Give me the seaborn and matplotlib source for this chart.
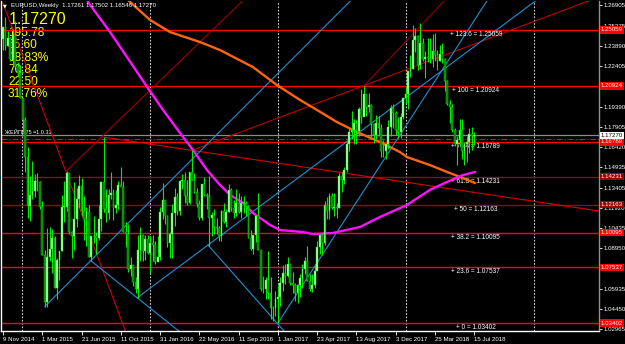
import numpy as np
import pandas as pd
import matplotlib
matplotlib.use("Agg")
import matplotlib.pyplot as plt
import seaborn as sns
from matplotlib.transforms import blended_transform_factory

sns.set_theme(style="dark")
plt.rcParams["font.family"] = ["Liberation Sans", "DejaVu Sans"]

# ---------------- data ----------------
first_week = "2014-11-09"
first_open = 1.2440
highs = [1.2530, 1.2600, 1.2500, 1.2456, 1.2510, 1.2570, 1.2270, 1.2250, 1.2000, 1.1860,
         1.1640, 1.1424, 1.1535, 1.1440, 1.1450, 1.1390, 1.1240, 1.0880, 1.1043, 1.1051,
         1.1036, 1.0980, 1.0820, 1.0870, 1.1290, 1.1390, 1.1467, 1.1450, 1.1020, 1.1385,
         1.1340, 1.1435, 1.1410, 1.1280, 1.1200, 1.1210, 1.0985, 1.1130, 1.1010, 1.1215,
         1.1390, 1.1714, 1.1330, 1.1330, 1.1460, 1.1330, 1.1320, 1.1390, 1.1495, 1.1390,
         1.1090, 1.1070, 1.0830, 1.0770, 1.0680, 1.0990, 1.1050, 1.1000, 1.0990, 1.0990,
         1.0985, 1.0990, 1.0950, 1.0985, 1.1200, 1.1376, 1.1250, 1.1140, 1.1010, 1.1220,
         1.1340, 1.1300, 1.1400, 1.1440, 1.1460, 1.1400, 1.1460, 1.1616, 1.1450, 1.1340,
         1.1250, 1.1370, 1.1420, 1.1300, 1.1425, 1.1160, 1.1180, 1.1120, 1.1060, 1.1175,
         1.1230, 1.1180, 1.1365, 1.1340, 1.1250, 1.1330, 1.1300, 1.1280, 1.1280, 1.1240,
         1.1210, 1.1030, 1.0990, 1.1140, 1.1300, 1.0800, 1.0690, 1.0680, 1.0870, 1.0680,
         1.0470, 1.0580, 1.0620, 1.0680, 1.0770, 1.0780, 1.0830, 1.0780, 1.0720, 1.0640,
         1.0630, 1.0700, 1.0780, 1.0830, 1.0910, 1.0700, 1.0700, 1.0780, 1.0950, 1.1000,
         1.1000, 1.1240, 1.1270, 1.1300, 1.1300, 1.1300, 1.1230, 1.1450, 1.1460, 1.1490,
         1.1680, 1.1780, 1.1910, 1.1850, 1.1840, 1.1940, 1.2070, 1.2092, 1.2030, 1.2040,
         1.1960, 1.1800, 1.1880, 1.1870, 1.1810, 1.1690, 1.1670, 1.1840, 1.1950, 1.1960,
         1.1910, 1.1860, 1.1890, 1.1990, 1.2090, 1.2200, 1.2320, 1.2540, 1.2520, 1.2470,
         1.2555, 1.2450, 1.2350, 1.2450, 1.2450, 1.2476, 1.2480, 1.2360, 1.2396, 1.2410,
         1.2290, 1.2140, 1.1990, 1.1960, 1.1780, 1.1720, 1.1850, 1.1850, 1.1680, 1.1720,
         1.1780, 1.1790, 1.17502]
lows = [1.2360, 1.2360, 1.2390, 1.2280, 1.2250, 1.2230, 1.2165, 1.2000, 1.1754, 1.1460,
        1.1114, 1.1098, 1.1260, 1.1270, 1.1315, 1.1180, 1.0840, 1.0462, 1.0460, 1.0800,
        1.0712, 1.0600, 1.0520, 1.0660, 1.0870, 1.1090, 1.1170, 1.1000, 1.0819, 1.0880,
        1.1050, 1.1190, 1.1130, 1.0955, 1.0910, 1.0830, 1.0809, 1.0930, 1.0850, 1.0955,
        1.1020, 1.1160, 1.1085, 1.1110, 1.1260, 1.1100, 1.1150, 1.1180, 1.1350, 1.1010,
        1.0900, 1.0715, 1.0690, 1.0615, 1.0560, 1.0524, 1.0800, 1.0800, 1.0805, 1.0850,
        1.0710, 1.0800, 1.0775, 1.0800, 1.0810, 1.1110, 1.1070, 1.0900, 1.0820, 1.0820,
        1.1060, 1.1140, 1.1140, 1.1330, 1.1230, 1.1210, 1.1220, 1.1400, 1.1300, 1.1200,
        1.1100, 1.1100, 1.1280, 1.1180, 1.0910, 1.0980, 1.1000, 1.1000, 1.0950, 1.0950,
        1.1080, 1.1050, 1.1160, 1.1170, 1.1120, 1.1130, 1.1150, 1.1120, 1.1150, 1.1130,
        1.0970, 1.0880, 1.0850, 1.0940, 1.0880, 1.0580, 1.0560, 1.0520, 1.0520, 1.0370,
        1.0352, 1.0390, 1.0340, 1.0470, 1.0580, 1.0630, 1.0680, 1.0620, 1.0560, 1.0500,
        1.0490, 1.0530, 1.0600, 1.0700, 1.0650, 1.0580, 1.0570, 1.0600, 1.0800, 1.0850,
        1.0840, 1.0920, 1.1110, 1.1110, 1.1180, 1.1130, 1.1120, 1.1190, 1.1310, 1.1370,
        1.1460, 1.1610, 1.1700, 1.1660, 1.1660, 1.1720, 1.1820, 1.1880, 1.1870, 1.1900,
        1.1710, 1.1670, 1.1700, 1.1720, 1.1570, 1.1570, 1.1550, 1.1630, 1.1720, 1.1780,
        1.1730, 1.1710, 1.1710, 1.1850, 1.1970, 1.1920, 1.2160, 1.2220, 1.2340, 1.2210,
        1.2220, 1.2280, 1.2150, 1.2270, 1.2260, 1.2230, 1.2280, 1.2210, 1.2280, 1.2260,
        1.2055, 1.1950, 1.1820, 1.1750, 1.1650, 1.1510, 1.1650, 1.1550, 1.1510, 1.1530,
        1.1600, 1.1620, 1.16546]
closes = [1.2525, 1.2389, 1.2450, 1.2290, 1.2470, 1.2230, 1.2186, 1.2003, 1.1842, 1.1566,
          1.1204, 1.1290, 1.1315, 1.1390, 1.1380, 1.1195, 1.0845, 1.0495, 1.0825, 1.0890,
          1.0970, 1.0600, 1.0805, 1.0875, 1.1200, 1.1200, 1.1450, 1.1010, 1.0980, 1.1110,
          1.1260, 1.1350, 1.1165, 1.1110, 1.1160, 1.0830, 1.0980, 1.0985, 1.0970, 1.1110,
          1.1385, 1.1180, 1.1150, 1.1290, 1.1300, 1.1190, 1.1210, 1.1360, 1.1345, 1.1015,
          1.1000, 1.0740, 1.0770, 1.0645, 1.0590, 1.0880, 1.0990, 1.0870, 1.0965, 1.0860,
          1.0930, 1.0915, 1.0795, 1.0830, 1.1160, 1.1250, 1.1130, 1.0935, 1.1000, 1.1150,
          1.1270, 1.1170, 1.1390, 1.1400, 1.1280, 1.1225, 1.1455, 1.1400, 1.1310, 1.1220,
          1.1115, 1.1365, 1.1290, 1.1280, 1.1120, 1.1140, 1.1050, 1.1040, 1.0980, 1.1170,
          1.1090, 1.1160, 1.1325, 1.1190, 1.1150, 1.1230, 1.1160, 1.1230, 1.1230, 1.1200,
          1.0970, 1.0890, 1.0990, 1.1130, 1.0880, 1.0590, 1.0590, 1.0660, 1.0560, 1.0450,
          1.0450, 1.0520, 1.0530, 1.0640, 1.0710, 1.0690, 1.0780, 1.0640, 1.0620, 1.0560,
          1.0620, 1.0670, 1.0740, 1.0800, 1.0650, 1.0590, 1.0620, 1.0725, 1.0900, 1.0990,
          1.0930, 1.1210, 1.1170, 1.1280, 1.1190, 1.1200, 1.1190, 1.1430, 1.1400, 1.1470,
          1.1660, 1.1750, 1.1770, 1.1820, 1.1760, 1.1920, 1.1860, 1.2030, 1.1940, 1.1950,
          1.1810, 1.1730, 1.1820, 1.1780, 1.1610, 1.1610, 1.1660, 1.1790, 1.1930, 1.1890,
          1.1770, 1.1750, 1.1860, 1.2000, 1.2030, 1.2200, 1.2220, 1.2430, 1.2460, 1.2250,
          1.2410, 1.2290, 1.2310, 1.2300, 1.2290, 1.2350, 1.2320, 1.2280, 1.2330, 1.2290,
          1.2130, 1.1960, 1.1940, 1.1770, 1.1660, 1.1690, 1.1770, 1.1610, 1.1660, 1.1680,
          1.1740, 1.17261, 1.17270]

# moving averages (bar index, price)
ma_fast_idx = [33.8, 34.6, 43.6, 50.5, 58.7, 65.2, 72.1, 77.4, 83.1, 88.4, 92.5, 97.8,
               101.8, 108.8, 112.8, 122.2, 126.3, 134.4, 145.4, 153.6, 164.6, 173.9,
               180.9, 187.4, 192.3]
ma_fast_val = [1.2750, 1.2713, 1.2491, 1.2306, 1.2085, 1.1915, 1.1745, 1.1619, 1.1471,
               1.1361, 1.1287, 1.1228, 1.1154, 1.1065, 1.1028, 1.1013, 1.0998, 1.1006,
               1.1050, 1.1124, 1.1213, 1.1324, 1.1383, 1.1434, 1.1457]
ma_slow_idx = [49.8, 50.9, 59.9, 68.0, 80.2, 88.4, 101.8, 111.6, 121.0, 127.9, 136.0,
               144.2, 153.6, 161.7, 164.6, 173.9, 180.9, 186.2, 192.3]
ma_slow_val = [1.2750, 1.2727, 1.2580, 1.2491, 1.2417, 1.2358, 1.2232, 1.2099, 1.1989,
               1.1915, 1.1826, 1.1752, 1.1678, 1.1604, 1.1567, 1.1508, 1.1457, 1.1420,
               1.1375]

# Fibonacci retracement
fib_pct = ["0", "23.6", "38.2", "50", "61.8", "76.4", "100", "123.6"]
fib_val = [1.03402, 1.07537, 1.10095, 1.12163, 1.14231, 1.16789, 1.20924, 1.25059]

# trend lines: (start bar, start price) -> (second bar, second price), drawn as rays
trend_x0 = [0.0, 26.0, 41.0, 77.0, 147.0, 17.0, 35.44, 54.58, 83.5, 112.0]
trend_p0 = [1.2705, 1.1467, 1.1714, 1.1616, 1.2092, 1.0462, 1.0806, 1.0526, 1.0917, 1.0340]
trend_x1 = [49.7, 90.0, 200.0, 220.0, 170.0, 110.0, 70.0, 200.0, 111.6, 162.0]
trend_p1 = [1.0289, 1.2588, 1.1284, 1.2594, 1.2534, 1.2149, 1.0305, 1.2492, 1.0341, 1.1738]

price_now = 1.17270
price_line2 = 1.16988
yticks = ["1.02965", "1.04450", "1.05935", "1.08950", "1.10435", "1.11920",
          "1.13405", "1.14935", "1.16420", "1.17905", "1.19390", "1.22405",
          "1.23890", "1.25375", "1.26905"]
xtick_dates = ["2014-11-09", "2015-03-01", "2015-06-21", "2015-10-11", "2016-01-31",
               "2016-05-22", "2016-09-11", "2017-01-01", "2017-04-23", "2017-08-13",
               "2017-12-03", "2018-03-25", "2018-07-15"]
xtick_labels = ["9 Nov 2014", "1 Mar 2015", "21 Jun 2015", "11 Oct 2015", "31 Jan 2016",
                "22 May 2016", "11 Sep 2016", "1 Jan 2017", "23 Apr 2017", "13 Aug 2017",
                "3 Dec 2017", "25 Mar 2018", "15 Jul 2018"]
year_seps = ["2015-01-01", "2016-01-01", "2017-01-01", "2018-01-01", "2019-01-01"]
header = "EURUSD,Weekly  1.17261 1.17502 1.16546 1.17270"
info_big = "1.17270"
info_rows = ["195.78", "55.60", "18.83%", "70.84", "22.50", "31.76%"]

# ---------------- styles ----------------
W, H = 625, 344
fib_colors = ["#ff0000", "#ff0000", "#ff0000", "#a00000", "#a00000", "#ff0000", "#ff0000", "#ff0000"]
trend_colors = ["#d00000", "#a00000", "#d80000", "#c00000", "#900000",
                "#2090d0", "#2090d0", "#2090d0", "#2090d0", "#2090d0"]

def wk(d):
    return (pd.Timestamp(d) - pd.Timestamp(first_week)).days / 7.0

opens = [first_open] + closes[:-1]
df = pd.DataFrame({"i": np.arange(len(closes)), "open": opens, "high": highs,
                   "low": lows, "close": closes})
df["bull"] = df["close"] >= df["open"]

fig = plt.figure(figsize=(W / 100, H / 100), dpi=100, facecolor="black")
ax = fig.add_axes([1 / W, 13 / H, 598 / W, 330 / H])
ax.set_facecolor("black")
ax.grid(False)
ax.set_xlim(-0.815, 242.8)
ax.set_ylim(1.02817, 1.27201)

# year separators
for d in year_seps:
    ax.axvline(wk(d), color="#d0d0d0", lw=0.8, ls=(0, (1.5, 1.5)), zorder=1)

# fib lines
for v, c in zip(fib_val, fib_colors):
    ax.axhline(v, color=c, lw=1.0, zorder=2)
for p, v in zip(fib_pct, fib_val):
    ax.text(192.6, v - 0.0034, f"+ {p} = {v:.5f}", color="white", fontsize=4.7,
            ha="center", va="center", zorder=2.5)

# current price lines
ax.axhline(price_now, color="#8a8a8a", lw=0.9, zorder=2)
ax.axhline(price_line2, color="#ff0000", lw=0.8, ls=(0, (5, 2, 1, 2)), zorder=2)

# trend lines (rays)
for x0, p0, x1, p1, c in zip(trend_x0, trend_p0, trend_x1, trend_p1, trend_colors):
    slope = (p1 - p0) / (x1 - x0)
    xe = 260.0
    ax.plot([x0, xe], [p0, p0 + slope * (xe - x0)], color=c, lw=0.8, zorder=2.2)

# moving averages
sns.lineplot(x=ma_slow_idx, y=ma_slow_val, ax=ax, color="#ff6410", lw=1.7, sort=False,
             zorder=3)
sns.lineplot(x=ma_fast_idx, y=ma_fast_val, ax=ax, color="#ff10ff", lw=1.7, sort=False,
             zorder=3)

# yellow info text (under candles)
ax.text(9 / W, 1 - 19 / H, info_big, transform=fig.transFigure, color="#ffff00",
        fontsize=11.5, va="center", ha="left", zorder=1.5, clip_on=False)
for k, t in enumerate(info_rows):
    ax.text(8 / W, 1 - (33 + 12.3 * k) / H, t, transform=fig.transFigure, color="#ffff00",
            fontsize=8.6, va="center", ha="left", zorder=1.5, clip_on=False)
ax.text(5 / W, 1 - 132 / H, "ЖЕЙПБ75 ≈1.0.31", transform=fig.transFigure, color="white",
        fontsize=4.0, va="center", ha="left", zorder=1.5, clip_on=False)

# candles
ax.vlines(df["i"], df["low"], df["high"], color="#00ee00", lw=0.8, zorder=5)
body_lo = df[["open", "close"]].min(axis=1)
body_h = (df["close"] - df["open"]).abs().clip(lower=0.0004)
ax.bar(df["i"], body_h, bottom=body_lo, width=0.75,
       color=np.where(df["bull"], "#b0ffb0", "#0a7a0a"),
       edgecolor="#00ee00", linewidth=0.3, zorder=6)

# axes styling
ax.spines["top"].set_visible(False)
ax.spines["left"].set_color("white")
ax.spines["bottom"].set_color("white")
ax.spines["right"].set_color("#909090")
for s in ["left", "bottom", "right"]:
    ax.spines[s].set_linewidth(1.0)

ax.yaxis.tick_right()
ax.set_yticks([float(t) for t in yticks])
ax.set_yticklabels(yticks)
ax.tick_params(axis="y", colors="white", labelcolor="white", labelsize=4.4, length=2,
               width=0.6, pad=1.5, direction="out", right=True, left=False)
ax.set_xticks([wk(d) for d in xtick_dates])
ax.set_xticklabels(xtick_labels, ha="left")
ax.tick_params(axis="x", colors="white", labelcolor="white", labelsize=4.4, length=3,
               width=0.6, pad=1.5, direction="out", bottom=True)
ax.set_xlabel("")
ax.set_ylabel("")

# price labels on right axis
tr = blended_transform_factory(ax.transAxes, ax.transData)
for v, c in zip(fib_val, fib_colors):
    ax.text(1.003, v, f"{v:.5f}", transform=tr, color="white", fontsize=4.4, ha="left",
            va="center", clip_on=False, zorder=10,
            bbox=dict(boxstyle="square,pad=0.18", fc=c, ec="none"))
ax.text(1.003, price_now, f"{price_now:.5f}", transform=tr, color="black", fontsize=4.4,
        ha="left", va="center", clip_on=False, zorder=10,
        bbox=dict(boxstyle="square,pad=0.18", fc="white", ec="none"))

# header
fig.text(3 / W, 1 - 6 / H, "▼", color="white", fontsize=3.5, va="center", ha="left",
         family=["DejaVu Sans"])
fig.text(11 / W, 1 - 6 / H, header, color="white", fontsize=4.4, va="center", ha="left")

fig.savefig("out.png", dpi=100, facecolor="black")
